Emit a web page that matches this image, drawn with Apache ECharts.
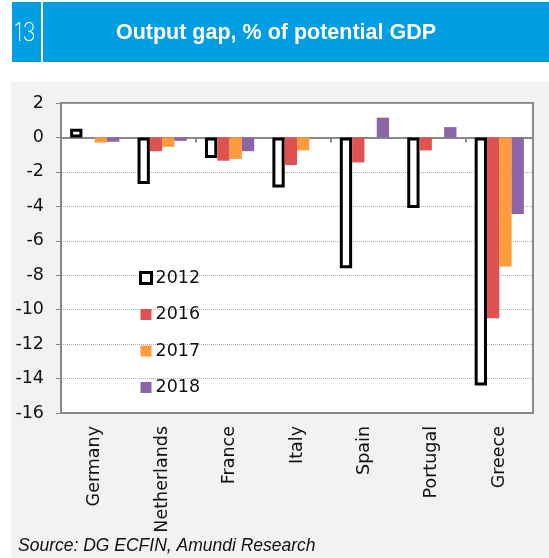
<!DOCTYPE html>
<html><head><meta charset="utf-8">
<script src="https://cdn.jsdelivr.net/npm/echarts@6/dist/echarts.min.js"></script>
<style>html,body{margin:0;padding:0;background:#fff;}#c{width:549px;height:558px;}</style>
</head><body><div id="c"></div>
<script>
var categories = ['Germany','Netherlands','France','Italy','Spain','Portugal','Greece'];
var s2012 = [0.5, -2.7, -1.2, -2.9, -7.6, -4.1, -14.4];
var s2016 = [0, -0.8, -1.35, -1.6, -1.45, -0.75, -10.5];
var s2017 = [-0.3, -0.55, -1.25, -0.75, 0, 0, -7.5];
var s2018 = [-0.25, -0.2, -0.8, 0, 1.15, 0.6, -4.45];
var yTicks = {min:-16, max:2, interval:2};

var chart = echarts.init(document.getElementById('c'));
var F = 'Liberation Sans, Arial, sans-serif';
var D = 'DejaVu Sans, sans-serif';
chart.setOption({
  animation:false,
  backgroundColor:'#fff',
  graphic:[
    {type:'rect', shape:{x:11,y:82,width:538,height:476}, style:{fill:'#F3F1F2'}, z:-10},
    {type:'rect', shape:{x:12,y:2,width:537,height:60}, style:{fill:'#009FE3'}, z:-10},
    {type:'rect', shape:{x:41,y:2,width:2,height:60}, style:{fill:'#fff'}, z:-9},
    {type:'text', x:14, y:33, scaleX:0.85, style:{text:'13', fill:'#fff', font:'200 26px Inter, '+F, textVerticalAlign:'middle'}},
    {type:'text', x:276, y:33, style:{text:'Output gap, % of potential GDP', fill:'#fff', font:'bold 21.5px '+F, textAlign:'center', textVerticalAlign:'middle'}},
    {type:'text', x:18, y:546, style:{text:'Source: DG ECFIN, Amundi Research', fill:'#111', font:'italic 17.5px '+F, textVerticalAlign:'middle'}}
  ],
  grid:{left:61, top:103, right:16, bottom:145, show:true, backgroundColor:'#fff', borderColor:'#888', borderWidth:2},
  legend:{
    orient:'vertical', left:134, top:264, itemGap:18.5, itemWidth:11, itemHeight:11,
    textStyle:{fontFamily:D, fontSize:17.5, color:'#111', padding:[0,0,0,-1]},
    data:[
      {name:'2012', icon:'rect', itemStyle:{color:'#fff', borderColor:'#000', borderWidth:3}},
      {name:'2016', icon:'rect'},
      {name:'2017', icon:'rect'},
      {name:'2018', icon:'rect'}
    ]
  },
  xAxis:[
    {type:'category', data:categories, position:'bottom',
     axisLine:{onZero:false, lineStyle:{color:'#888', width:2}},
     axisTick:{show:false},
     axisLabel:{rotate:90, fontFamily:D, fontSize:17.5, color:'#111', margin:13}},
    {type:'category', data:categories, position:'top',
     axisLine:{onZero:true, lineStyle:{color:'#888', width:2}},
     axisTick:{show:true, inside:true, length:5, lineStyle:{color:'#888', width:2}},
     axisLabel:{show:false}}
  ],
  yAxis:{type:'value', min:yTicks.min, max:yTicks.max, interval:yTicks.interval,
    axisLine:{show:true, lineStyle:{color:'#888', width:2}},
    axisTick:{show:true, length:5, lineStyle:{color:'#888'}},
    splitLine:{show:true, lineStyle:{color:'#aaa', type:'dotted', width:1}},
    axisLabel:{fontFamily:D, fontSize:17.5, color:'#111', margin:17}},
  series:[
    {name:'2012', type:'bar', data:s2012, barGap:'0%', barCategoryGap:'27%',
     itemStyle:{color:'#fff', borderColor:'#000', borderWidth:3}},
    {name:'2016', type:'bar', data:s2016, itemStyle:{color:'#E05252'}},
    {name:'2017', type:'bar', data:s2017, itemStyle:{color:'#FF9B3D'}},
    {name:'2018', type:'bar', data:s2018, itemStyle:{color:'#8C65A8'}}
  ]
});
</script></body></html>
